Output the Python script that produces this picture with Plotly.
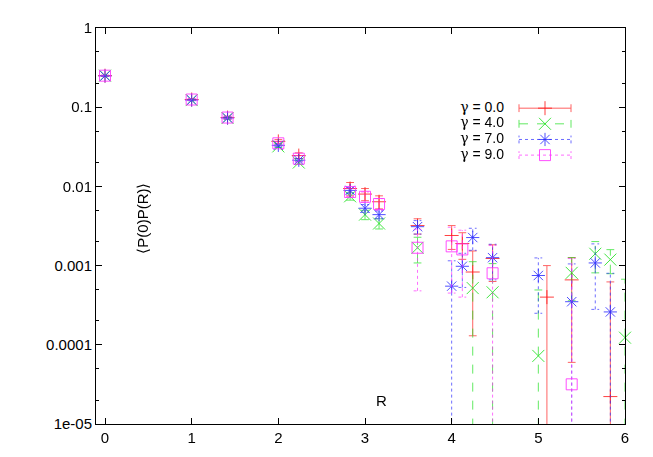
import plotly.graph_objects as go
import numpy as np

# distances R (sqrt of integer squared distances)
R = [0, 1, 1.414, 2, 2.236, 2.828, 3, 3.162, 3.606, 4, 4.123, 4.243, 4.472,
     5, 5.099, 5.385, 5.657, 5.831, 6]

gamma_labels = ["0.0", "4.0", "7.0", "9.0"]

# <P(0)P(R)> values and errors, None = not shown (negative / missing)
y_g0 = [0.25, 0.125, 0.074, 0.037, 0.0245, 0.0094, 0.0080, 0.0064, 0.0032, 0.0024, 0.0019,
        0.00083, 0.00123, None, 0.0004, 0.00066, None, 0.0000222, None]
e_g0 = [0.003, 0.003, 0.003, 0.002, 0.002, 0.0018, 0.0014, 0.0012, 0.0007, 0.0008, 0.0007,
        0.0007, 0.0006, None, 0.0006, 0.0006, None, 0.0006, None]

y_g4 = [0.25, 0.123, 0.073, 0.032, 0.020, 0.0075, 0.0044, 0.0034, 0.00168, None, None,
        0.00052, 0.00046, 0.0000724, None, 0.00081, 0.00141, 0.00119, 0.000123]
e_g4 = [0.002, 0.002, 0.002, 0.001, 0.001, 0.0008, 0.0006, 0.0005, 0.0006, None, None,
        0.0006, 0.0006, 0.00042, None, 0.00045, 0.0006, 0.0004, 0.00055]

y_g7 = [0.248, 0.123, 0.073, 0.033, 0.0214, 0.0089, 0.0053, 0.0044, 0.0031, 0.00055, 0.00098,
        0.00226, 0.00126, 0.00075, None, 0.00035, 0.00108, 0.00026, None]
e_g7 = [0.002, 0.002, 0.002, 0.001, 0.001, 0.0008, 0.0006, 0.0005, 0.0006, 0.0006, 0.00045,
        0.0007, 0.0006, 0.0005, None, 0.0007, 0.0008, 0.00054, None]

y_g9 = [0.25, 0.125, 0.074, 0.035, 0.0224, 0.0085, 0.0074, 0.0060, 0.00168, 0.00175, 0.0016,
        None, 0.0008, None, None, 0.0000317, None, None, None]
e_g9 = [0.003, 0.003, 0.003, 0.002, 0.002, 0.001, 0.0011, 0.001, 0.0012, 0.0013, 0.0012,
        None, 0.001, None, None, 0.0012, None, None, None]

series = [
    (y_g0, e_g0, "#ff2020", "solid", "cross-thin-open", 10),
    (y_g4, e_g4, "#20e020", "dash", "x-thin-open", 12),
    (y_g7, e_g7, "#3030ff", "dot", "asterisk-open", 11),
    (y_g9, e_g9, "#ff30ff", "dot", "square-open", 11),
]

FONT = "Liberation Sans, Arial, sans-serif"
CAP = 0.045  # half width of error-bar caps in R units

fig = go.Figure()

for ys, es, col, dash, sym, sz in series:
    bx, by, cx, cy = [], [], [], []
    for r, y, e in zip(R, ys, es):
        if y is None:
            continue
        lo = y - e if y - e > 0 else 1e-8
        hi = y + e
        bx += [r, r, None]
        by += [lo, hi, None]
        for v in (lo, hi):
            cx += [r - CAP, r + CAP, None]
            cy += [v, v, None]
    fig.add_trace(go.Scatter(x=bx + cx, y=by + cy, mode="lines",
                             line=dict(color=col, width=1, dash=dash),
                             opacity=0.7, hoverinfo="skip", showlegend=False))
    fig.add_trace(go.Scatter(x=R, y=ys, mode="markers", cliponaxis=False,
                             marker=dict(symbol=sym, size=sz, color=col, opacity=0.85,
                                         line=dict(color=col, width=1)),
                             showlegend=False))

# gnuplot-style key drawn on an overlay axis spanning the plot area
L, Rt, T, B = 96, 625, 19, 424
def px(xp): return (xp - L) / (Rt - L)
def py(yp): return (B - yp) / (B - T)

key_y = []
for i, (ys, es, col, dash, sym, sz) in enumerate(series):
    yr = py(101 + 16 * i)
    key_y.append(yr)
    x1, x2, xm = px(519), px(571), px(545)
    tick = 4 / (B - T)
    fig.add_trace(go.Scatter(x=[x1, x2, None, x1, x1, None, x2, x2],
                             y=[yr, yr, None, yr - tick, yr + tick, None, yr - tick, yr + tick],
                             xaxis="x2", yaxis="y2", mode="lines",
                             line=dict(color=col, width=1, dash=dash), opacity=0.7,
                             hoverinfo="skip", showlegend=False))
    fig.add_trace(go.Scatter(x=[xm], y=[yr], xaxis="x2", yaxis="y2", mode="markers",
                             marker=dict(symbol=sym, size=sz, color=col, opacity=0.85,
                                         line=dict(color=col, width=1)),
                             hoverinfo="skip", showlegend=False))

fig.add_trace(go.Scatter(
    x=[px(504)] * len(gamma_labels), y=key_y, xaxis="x2", yaxis="y2", mode="text",
    text=['<span style="font-family:DejaVu Serif">γ</span> = ' + g for g in gamma_labels],
    textposition="middle left", textfont=dict(family=FONT, size=14, color="black"),
    hoverinfo="skip", showlegend=False))

fig.add_annotation(x=px(143), y=py(214), xref="x2", yref="y2", text="⟨P(0)P(R)⟩",
                   textangle=-90, showarrow=False, font=dict(family=FONT, size=15, color="black"))
fig.add_annotation(x=px(381), y=py(400), xref="x2", yref="y2", text="R",
                   showarrow=False, font=dict(family=FONT, size=15, color="black"))

ax_common = dict(showline=True, linecolor="black", linewidth=1, mirror="allticks",
                 ticks="inside", ticklen=6, tickcolor="black", showgrid=False, zeroline=False,
                 tickfont=dict(family=FONT, size=15, color="black"))

# page body has an 8px margin, so the figure is 8px smaller and margins shifted
fig.update_layout(
    width=645, height=449,
    margin=dict(l=88, r=28, t=11, b=33),
    plot_bgcolor="white", paper_bgcolor="white",
    xaxis=dict(range=[-0.104, 6.0], tickvals=[0, 1, 2, 3, 4, 5, 6], **ax_common),
    yaxis=dict(type="log", range=[-5, 0],
               tickvals=[1e-5, 1e-4, 1e-3, 1e-2, 1e-1, 1],
               ticktext=["1e-05", "0.0001", "0.001", "0.01", "0.1", "1"],
               minor=dict(ticks="inside", ticklen=3, dtick="D2", tickcolor="black"),
               **ax_common),
    xaxis2=dict(range=[0, 1], overlaying="x", visible=False),
    yaxis2=dict(range=[0, 1], overlaying="y", visible=False),
)

fig.write_html("out.html")
